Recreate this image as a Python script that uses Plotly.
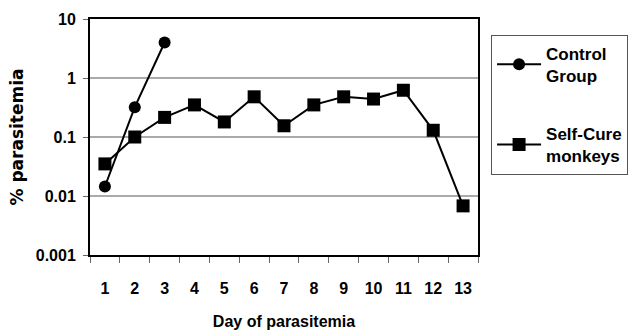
import plotly.graph_objects as go

days = [str(d) for d in range(1, 14)]
control_days = ["1", "2", "3"]
control_vals = [0.0145, 0.32, 4.0]
selfcure_vals = [0.035, 0.10, 0.215, 0.35, 0.18, 0.48, 0.155, 0.35, 0.48, 0.44, 0.62, 0.13, 0.0068]
ytick_vals = [0.001, 0.01, 0.1, 1, 10]
ytick_text = ["0.001", "0.01", "0.1", "1", "10"]

SANS = "Liberation Sans, Arial"
WIDE = "DejaVu Sans, Liberation Sans"

fig = go.Figure()
fig.add_trace(go.Scatter(
    x=control_days, y=control_vals, mode="lines+markers",
    name="Control<br>Group", legendgroup="a",
    line=dict(color="black", width=2),
    marker=dict(symbol="circle", size=12, color="black"),
))
fig.add_trace(go.Scatter(
    x=days, y=selfcure_vals, mode="lines+markers",
    name="Self-Cure<br>monkeys", legendgroup="b",
    line=dict(color="black", width=2),
    marker=dict(symbol="square", size=13, color="black"),
))

fig.update_layout(
    width=632, height=336,
    margin=dict(l=90, r=154, t=19, b=81),
    paper_bgcolor="white", plot_bgcolor="white",
    font=dict(family=SANS, color="black", size=16, weight="bold"),
    showlegend=True,
    legend=dict(
        xref="container", yref="container",
        x=0.777, y=0.897, xanchor="left", yanchor="top",
        bordercolor="#555555", borderwidth=1,
        font=dict(family=SANS, size=17, color="black", weight="bold"),
        tracegroupgap=33, itemwidth=44,
    ),
)
fig.update_xaxes(
    type="category", categoryorder="array", categoryarray=days,
    range=[-0.5, 12.5], automargin=False, tickangle=0,
    showline=True, linecolor="black", linewidth=2, mirror=True,
    ticks="outside", tickson="boundaries", ticklen=6, tickcolor="#666",
    ticklabelstandoff=18,
    showgrid=False,
    tickfont=dict(family=SANS, size=16, weight="bold"),
    title=dict(text="Day of parasitemia", standoff=20,
               font=dict(family=SANS, size=16, weight="bold")),
)
fig.update_yaxes(
    type="log", range=[-3, 1], automargin=False,
    tickvals=ytick_vals, ticktext=ytick_text,
    showline=True, linecolor="black", linewidth=2, mirror=True,
    ticks="outside", ticklen=5, tickcolor="#666",
    ticklabelstandoff=4,
    showgrid=True, gridcolor="#aaaaaa", gridwidth=1.5,
    tickfont=dict(family=SANS, size=16, weight="bold"),
    title=dict(text="% parasitemia", standoff=8,
               font=dict(family=WIDE, size=17, weight="bold")),
)

fig.write_html("out.html")
